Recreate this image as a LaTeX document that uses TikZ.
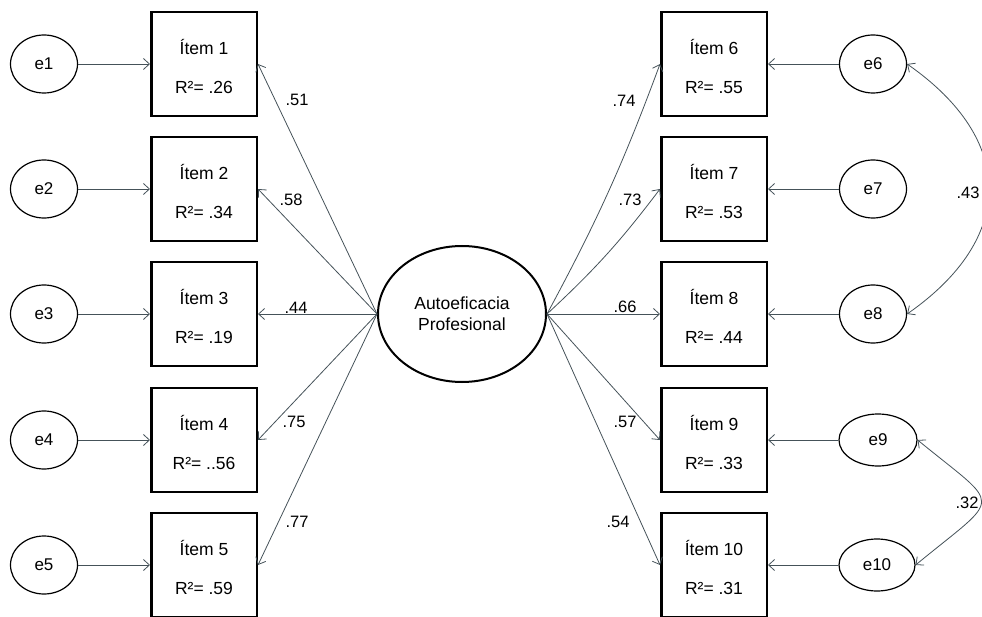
\documentclass[tikz,border=0pt]{standalone}
\usepackage{fontspec}
\setmainfont{Liberation Sans}
\usetikzlibrary{arrows.meta}
\usetikzlibrary{shapes.geometric}
\definecolor{mgray}{rgb}{0.27, 0.32, 0.35}
\tikzset{item/.style = {draw, line width = 2.5pt, minimum width = 105.5pt, minimum height = 104pt, inner sep = 0, text height = 60pt, align = center, font = \fontsize{17.5}{39}\selectfont}}
\tikzset{err/.style = {draw, ellipse, line width = 1.2pt, minimum width = 67pt, minimum height = 58pt, inner sep = 0, font = \fontsize{17}{20}\selectfont}}
\tikzset{lat/.style = {draw, ellipse, line width = 2pt, minimum width = 168pt, minimum height = 136pt, inner sep = 0, align = center, font = \fontsize{17.5}{21}\selectfont}}
\tikzset{path/.style = {mgray, line width = 0.8pt, -{Straight Barb[length = 6pt, width = 11pt]}}}
\tikzset{covar/.style = {mgray, line width = 0.8pt, {Straight Barb[length = 6pt, width = 11pt]}-{Straight Barb[length = 6pt, width = 11pt]}}}
\tikzset{coef/.style = {inner sep = 0, font = \fontsize{16.5}{20}\selectfont}}

\begin{document}
\begin{tikzpicture}[x = 1pt, y = -1pt]
          \useasboundingbox (0, 0) rectangle (982, 617);

          \node [lat] (af) at (462, 314) {Autoeficacia\\Profesional};

          \node [item] (item1) at (204, 64) {Ítem 1\\R²= .26};
          \node [item] (item2) at (204, 189) {Ítem 2\\R²= .34};
          \node [item] (item3) at (204, 314) {Ítem 3\\R²= .19};
          \node [item] (item4) at (204, 440) {Ítem 4\\R²= ..56};
          \node [item] (item5) at (204, 565) {Ítem 5\\R²= .59};
          \node [item] (item6) at (714, 64) {Ítem 6\\R²= .55};
          \node [item] (item7) at (714, 189) {Ítem 7\\R²= .53};
          \node [item] (item8) at (714, 314) {Ítem 8\\R²= .44};
          \node [item] (item9) at (714, 440) {Ítem 9\\R²= .33};
          \node [item] (item10) at (714, 565) {Ítem 10\\R²= .31};

          \node [err] (e1) at (44, 64) {e1};
          \node [err] (e2) at (44, 189) {e2};
          \node [err] (e3) at (44, 314) {e3};
          \node [err] (e4) at (44, 440) {e4};
          \node [err] (e5) at (44, 565) {e5};
          \node [err] (e6) at (873, 64) {e6};
          \node [err] (e7) at (873, 189) {e7};
          \node [err] (e8) at (873, 314) {e8};
          \node [err, minimum width = 78pt, minimum height = 52pt] (e9) at (878, 440) {e9};
          \node [err, minimum width = 76pt, minimum height = 52pt] (e10) at (877, 565) {e10};

          \draw [path] (af.west) -- (item1.east);
          \draw [path] (af.west) -- (item2.east);
          \draw [path] (af.west) -- (item3.east);
          \draw [path] (af.west) -- (item4.east);
          \draw [path] (af.west) -- (item5.east);
          \draw [path] (af.east) to [bend right = 4] (item6.west);
          \draw [path] (af.east) to [bend right = 5] (item7.west);
          \draw [path] (af.east) -- (item8.west);
          \draw [path] (af.east) -- (item9.west);
          \draw [path] (af.east) -- (item10.west);

          \draw [path] (e1.east) -- (item1.west);
          \draw [path] (e2.east) -- (item2.west);
          \draw [path] (e3.east) -- (item3.west);
          \draw [path] (e4.east) -- (item4.west);
          \draw [path] (e5.east) -- (item5.west);
          \draw [path] (e6.west) -- (item6.east);
          \draw [path] (e7.west) -- (item7.east);
          \draw [path] (e8.west) -- (item8.east);
          \draw [path] (e9.west) -- (item9.east);
          \draw [path] (e10.west) -- (item10.east);

          \draw [covar] (e6.east) .. controls (1016, 140) and (1016, 238) .. (e8.east);
          \draw [covar] (e9.east) .. controls (1003, 510) and (1003, 493) .. (e10.east);

          \node [coef] (l1) at (297, 100) {.51};
          \node [coef] (l2) at (291, 200) {.58};
          \node [coef] (l3) at (296, 308) {.44};
          \node [coef] (l4) at (294, 422) {.75};
          \node [coef] (l5) at (297, 522) {.77};
          \node [coef] (l6) at (624, 101) {.74};
          \node [coef] (l7) at (630, 200) {.73};
          \node [coef] (l8) at (625, 307) {.66};
          \node [coef] (l9) at (625, 422) {.57};
          \node [coef] (l10) at (618, 522) {.54};
          \node [coef] (c1) at (968, 193) {.43};
          \node [coef] (c2) at (967, 503) {.32};
        \end{tikzpicture}
\end{document}
